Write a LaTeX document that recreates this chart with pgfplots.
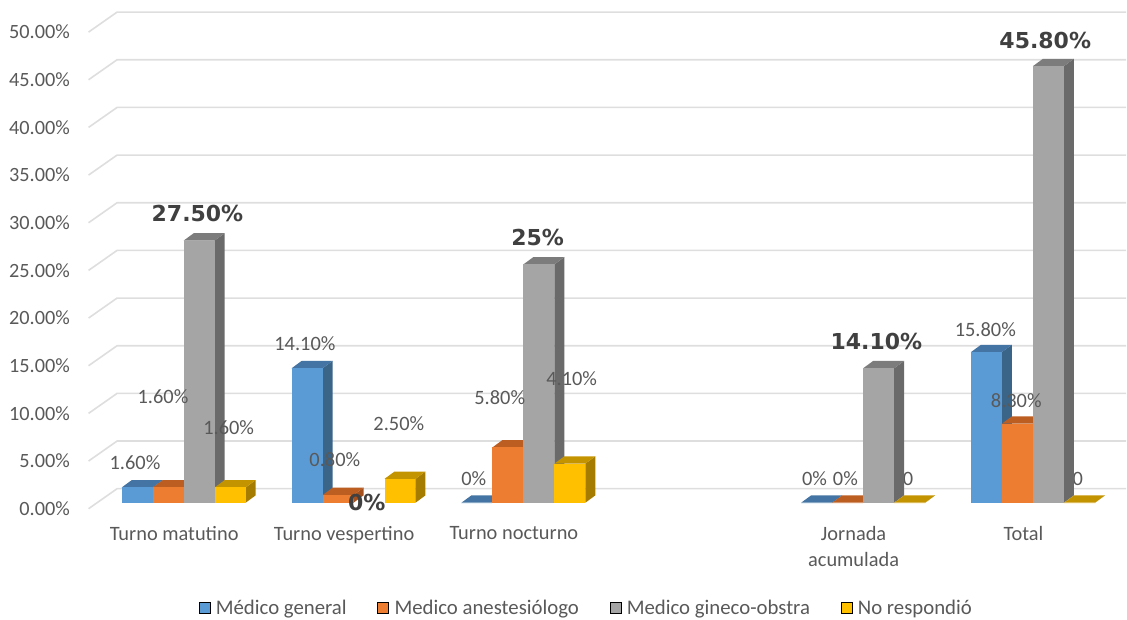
\documentclass[border=0pt]{standalone}
\usepackage{pgfplots}
\pgfplotsset{compat=1.18}
\usepackage{fontspec}
\setmainfont{Carlito}
\newfontfamily\boldlabel{DejaVu Sans Bold}
\newlength\px
\setlength\px{0.75pt}

\definecolor{txt}{HTML}{595959}
\definecolor{boldtxt}{HTML}{404040}
\definecolor{gridc}{HTML}{DEDEDE}
\definecolor{blueF}{HTML}{5B9BD5}\definecolor{blueT}{HTML}{4374A3}\definecolor{blueS}{HTML}{3A6488}
\definecolor{orngF}{HTML}{ED7D31}\definecolor{orngT}{HTML}{BC5E22}\definecolor{orngS}{HTML}{A5511D}
\definecolor{grayF}{HTML}{A5A5A5}\definecolor{grayT}{HTML}{7C7C7C}\definecolor{grayS}{HTML}{6A6A6A}
\definecolor{yelwF}{HTML}{FFC000}\definecolor{yelwT}{HTML}{C49400}\definecolor{yelwS}{HTML}{A67C00}

% One gridline: front-left stub plus the run along the back wall
\newcommand\gridlevel[1]{%
  \pgfmathsetmacro\ya{#1-0.63}\pgfmathsetmacro\yb{#1+1.47}%
  \addplot[gridc,line width=1.6\px,forget plot] coordinates {(-0.56,\ya) (-0.392,\yb) (5.549,\yb)};%
}
% One 3D column: slot 0..3 inside category #1, value #3, colour prefix #4
\newcommand\column[4]{%
  \pgfmathsetmacro\xl{#1+(#2-2)*0.1824}%
  \pgfmathsetmacro\xr{\xl+0.1824}%
  \pgfmathsetmacro\xlb{\xl+0.0588}%
  \pgfmathsetmacro\xrb{\xr+0.0588}%
  \pgfmathsetmacro\vb{#3+0.77}%
  \addplot[fill=#4S,draw=none,forget plot] coordinates {(\xr,0) (\xrb,0.77) (\xrb,\vb) (\xr,#3)} -- cycle;%
  \addplot[fill=#4T,draw=none,forget plot] coordinates {(\xl,#3) (\xlb,\vb) (\xrb,\vb) (\xr,#3)} -- cycle;%
  \addplot[fill=#4F,draw=none,forget plot] coordinates {(\xl,0) (\xl,#3) (\xr,#3) (\xr,0)} -- cycle;%
}
% Text placed by its centre, in fractions of the axis box
\newcommand\vlabel[3]{%
  \node[text=txt,font=\fontsize{15.3}{18}\selectfont,inner sep=0pt] at (rel axis cs:#1/1127,1-#2/616) {#3};%
}
\newcommand\blabel[3]{%
  \node[text=boldtxt,font=\fontsize{16.5}{18}\boldlabel,inner sep=0pt] at (rel axis cs:#1/1127,1-#2/616) {#3};%
}
\pgfplotsset{
  swatch/.style={legend image code/.code={
    \fill[##1] (0,-4.5\px) rectangle (11\px,6\px);}},
}

\begin{document}
\begin{tikzpicture}
\begin{axis}[
  scale only axis, width=1127\px, height=616\px,
  xmin=-1.0806, xmax=5.549, ymin=-11.845, ymax=52.725,
  axis line style={draw=none}, major tick length=0pt, clip=false,
  /pgf/number format/assume math mode=true,
  ytick={0,5,...,50},
  yticklabels={0.00\%,5.00\%,10.00\%,15.00\%,20.00\%,25.00\%,30.00\%,35.00\%,40.00\%,45.00\%,50.00\%},
  yticklabel style={anchor=east,inner sep=0pt,xshift=70\px,yshift=-6\px,text=txt,font=\fontsize{15.2}{18}\selectfont},
  xtick={0,1,2,4,5},
  xticklabels={Turno matutino,Turno vespertino,Turno nocturno,Jornada\\acumulada,Total},
  xticklabel style={anchor=north,inner sep=0pt,align=center,xshift=-9.5\px,yshift=90\px,text=txt,font=\fontsize{15.3}{19.5}\selectfont},
  legend style={at={(rel axis cs:0.5208,0.0115)},anchor=center,draw=none,fill=none,inner sep=0pt,
    legend columns=4,text=txt,font=\fontsize{15.6}{15}\selectfont,
    /tikz/every odd column/.append style={column sep=3\px},
    /tikz/every even column/.append style={column sep=28\px}},
  legend cell align=left,
]
\gridlevel{0}\gridlevel{5}\gridlevel{10}\gridlevel{15}\gridlevel{20}\gridlevel{25}
\gridlevel{30}\gridlevel{35}\gridlevel{40}\gridlevel{45}\gridlevel{50}

\addlegendimage{swatch,fill=blueF}\addlegendentry{Médico general}
\addlegendimage{swatch,fill=orngF}\addlegendentry{Medico anestesiólogo}
\addlegendimage{swatch,fill=grayF}\addlegendentry{Medico gineco-obstra}
\addlegendimage{swatch,fill=yelwF}\addlegendentry{No respondió}

% Turno matutino
\column{0}{0}{1.6}{blue}\column{0}{1}{1.6}{orng}\column{0}{2}{27.5}{gray}\column{0}{3}{1.6}{yelw}
% Turno vespertino: the grey series has no column here, only its 0% label
\column{1}{0}{14.1}{blue}\column{1}{1}{0.8}{orng}\column{1}{3}{2.5}{yelw}
% Turno nocturno
\column{2}{0}{0}{blue}\column{2}{1}{5.8}{orng}\column{2}{2}{25}{gray}\column{2}{3}{4.1}{yelw}
% Jornada acumulada: its last label sits behind the grey column
\addplot[draw=none,forget plot] coordinates {(4.264,2.5)} node[text=txt,font=\fontsize{15.3}{18}\selectfont,inner sep=0pt] {0};
\column{4}{0}{0}{blue}\column{4}{1}{0}{orng}\column{4}{2}{14.1}{gray}\column{4}{3}{0}{yelw}
% Total
\addplot[draw=none,forget plot] coordinates {(5.264,2.5)} node[text=txt,font=\fontsize{15.3}{18}\selectfont,inner sep=0pt] {0};
\column{5}{0}{15.8}{blue}\column{5}{1}{8.3}{orng}\column{5}{2}{45.8}{gray}\column{5}{3}{0}{yelw}

% Data labels
\vlabel{135}{463}{1.60\%}\vlabel{163}{397}{1.60\%}\blabel{197.5}{214}{27.50\%}\vlabel{228.7}{428}{1.60\%}
\vlabel{305}{344}{14.10\%}\vlabel{335}{460}{0.80\%}\blabel{367}{503}{0\%}\vlabel{399}{424}{2.50\%}
\vlabel{474}{479}{0\%}\vlabel{500}{398}{5.80\%}\blabel{538}{238}{25\%}\vlabel{572}{379}{4.10\%}
\vlabel{815}{479}{0\%}\vlabel{846}{479}{0\%}\blabel{877}{342}{14.10\%}
\vlabel{986}{330}{15.80\%}\vlabel{1017}{401}{8.30\%}\blabel{1046}{40}{45.80\%}
\end{axis}
\end{tikzpicture}
\end{document}
